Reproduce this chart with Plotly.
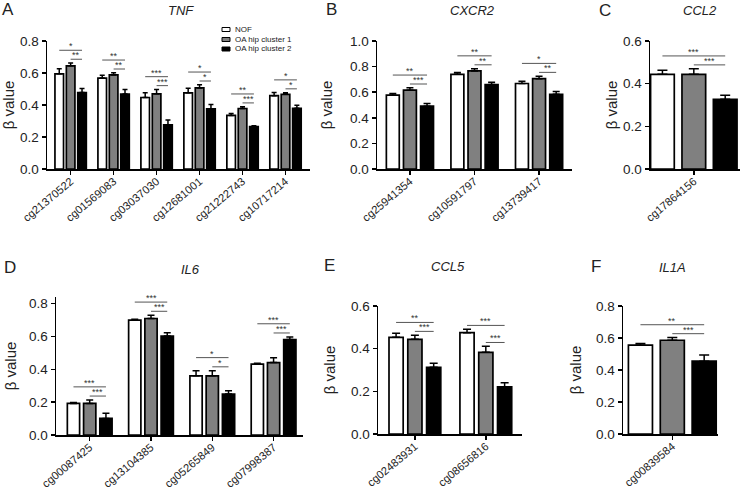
import plotly.graph_objects as go

W, H = 742, 490

# ---------------- data ----------------
groups = ["NOF", "OA hip cluster 1", "OA hip cluster 2"]

tnf_sites = ["cg21370522", "cg01569083", "cg03037030", "cg12681001", "cg21222743", "cg10717214"]
tnf_nof = [0.595, 0.568, 0.447, 0.476, 0.335, 0.458]
tnf_nof_err = [0.031, 0.018, 0.029, 0.029, 0.012, 0.020]
tnf_c1 = [0.645, 0.588, 0.470, 0.507, 0.378, 0.467]
tnf_c1_err = [0.017, 0.013, 0.027, 0.019, 0.011, 0.010]
tnf_c2 = [0.478, 0.468, 0.276, 0.376, 0.265, 0.379]
tnf_c2_err = [0.025, 0.029, 0.030, 0.027, 0.005, 0.020]
tnf_sig_long = ["*", "**", "***", "*", "**", "*"]
tnf_sig_short = ["**", "**", "***", "*", "***", "*"]

cxcr2_sites = ["cg25941354", "cg10591797", "cg13739417"]
cxcr2_nof = [0.577, 0.740, 0.668]
cxcr2_nof_err = [0.013, 0.013, 0.018]
cxcr2_c1 = [0.616, 0.766, 0.706]
cxcr2_c1_err = [0.018, 0.018, 0.019]
cxcr2_c2 = [0.491, 0.660, 0.584]
cxcr2_c2_err = [0.021, 0.018, 0.021]
cxcr2_sig_long = ["**", "**", "*"]
cxcr2_sig_short = ["***", "**", "**"]

ccl2_sites = ["cg17864156"]
ccl2_nof = [0.444]
ccl2_nof_err = [0.019]
ccl2_c1 = [0.444]
ccl2_c1_err = [0.026]
ccl2_c2 = [0.327]
ccl2_c2_err = [0.019]
ccl2_sig_long = ["***"]
ccl2_sig_short = ["***"]

il6_sites = ["cg00087425", "cg13104385", "cg05265849", "cg07998387"]
il6_nof = [0.192, 0.699, 0.360, 0.431]
il6_nof_err = [0.006, 0.006, 0.031, 0.006]
il6_c1 = [0.192, 0.709, 0.360, 0.441]
il6_c1_err = [0.021, 0.020, 0.031, 0.029]
il6_c2 = [0.101, 0.602, 0.249, 0.581]
il6_c2_err = [0.031, 0.020, 0.020, 0.016]
il6_sig_long = ["***", "***", "*", "***"]
il6_sig_short = ["***", "***", "*", "***"]

ccl5_sites = ["cg02483931", "cg08656816"]
ccl5_nof = [0.453, 0.475]
ccl5_nof_err = [0.019, 0.016]
ccl5_c1 = [0.444, 0.383]
ccl5_c1_err = [0.019, 0.028]
ccl5_c2 = [0.313, 0.221]
ccl5_c2_err = [0.019, 0.019]
ccl5_sig_long = ["**", "***"]
ccl5_sig_short = ["***", "***"]

il1a_sites = ["cg00839584"]
il1a_nof = [0.555]
il1a_nof_err = [0.010]
il1a_c1 = [0.586]
il1a_c1_err = [0.017]
il1a_c2 = [0.455]
il1a_c2_err = [0.038]
il1a_sig_long = ["**"]
il1a_sig_short = ["***"]

# ---------------- layout helpers ----------------
def fx(p):
    return p / W

def fy(p):
    return 1 - p / H

FONT = "Liberation Sans, Arial, sans-serif"
fills = ["white", "#808080", "black"]
OFF = 0.265   # bar offset within a group (axis units)
BW = 0.2      # bar width (axis units)

panels = [
    dict(letter="A", gene="TNF", sites=tnf_sites,
         vals=[tnf_nof, tnf_c1, tnf_c2], errs=[tnf_nof_err, tnf_c1_err, tnf_c2_err],
         sl=tnf_sig_long, ss=tnf_sig_short,
         box=(47, 310, 41, 169), ytop=0.8, xr=(-0.55, 5.57), cap=2.5, so=6,
         lp=(8, 9), tp=(181, 10)),
    dict(letter="B", gene="CXCR2", sites=cxcr2_sites,
         vals=[cxcr2_nof, cxcr2_c1, cxcr2_c2], errs=[cxcr2_nof_err, cxcr2_c1_err, cxcr2_c2_err],
         sl=cxcr2_sig_long, ss=cxcr2_sig_short,
         box=(377, 572, 41, 169), ytop=1.0, xr=(-0.51, 2.51), cap=3.5, so=14,
         lp=(331, 9), tp=(473, 10)),
    dict(letter="C", gene="CCL2", sites=ccl2_sites,
         vals=[ccl2_nof, ccl2_c1, ccl2_c2], errs=[ccl2_nof_err, ccl2_c1_err, ccl2_c2_err],
         sl=ccl2_sig_long, ss=ccl2_sig_short,
         box=(650, 740, 41, 169), ytop=0.6, xr=(-0.37, 0.39), cap=5, so=2,
         lp=(605, 10), tp=(700, 10)),
    dict(letter="D", gene="IL6", sites=il6_sites,
         vals=[il6_nof, il6_c1, il6_c2], errs=[il6_nof_err, il6_c1_err, il6_c2_err],
         sl=il6_sig_long, ss=il6_sig_short,
         box=(56, 303, 297, 435), ytop=0.84, xr=(-0.55, 3.48), cap=3.5, so=9,
         lp=(10, 267), tp=(190, 269)),
    dict(letter="E", gene="CCL5", sites=ccl5_sites,
         vals=[ccl5_nof, ccl5_c1, ccl5_c2], errs=[ccl5_nof_err, ccl5_c1_err, ccl5_c2_err],
         sl=ccl5_sig_long, ss=ccl5_sig_short,
         box=(378, 522, 306, 434), ytop=0.6, xr=(-0.52, 1.51), cap=4, so=12,
         lp=(329, 265), tp=(448, 266)),
    dict(letter="F", gene="IL1A", sites=il1a_sites,
         vals=[il1a_nof, il1a_c1, il1a_c2], errs=[il1a_nof_err, il1a_c1_err, il1a_c2_err],
         sl=il1a_sig_long, ss=il1a_sig_short,
         box=(623, 718, 306, 434), ytop=0.8, xr=(-0.41, 0.38), cap=5, so=11,
         lp=(596, 266), tp=(672, 267)),
]

fig = go.Figure()
shapes = []
annotations = []
layout_axes = {}

for k, p in enumerate(panels, start=1):
    xa = "x" if k == 1 else f"x{k}"
    ya = "y" if k == 1 else f"y{k}"
    n = len(p["sites"])
    offsets = [-OFF, 0.0, OFF]
    for g in range(3):
        fig.add_trace(go.Bar(
            x=[i + offsets[g] for i in range(n)],
            y=p["vals"][g],
            width=BW,
            name=groups[g],
            marker=dict(color=fills[g], line=dict(color="black", width=1.7)),
            error_y=dict(type="data", array=p["errs"][g], arrayminus=[0] * n,
                         symmetric=False, color="black", thickness=1.5, width=p["cap"]),
            xaxis=xa, yaxis=ya, showlegend=False, hoverinfo="skip",
        ))
    tick_top = 0.8 if p["ytop"] == 0.84 else p["ytop"]
    pad = 0.03 * tick_top
    gap = 0.07 * tick_top
    for i in range(n):
        tops = [p["vals"][g][i] + p["errs"][g][i] for g in range(3)]
        y_short = max(tops[1], tops[2]) + pad
        y_long = max(max(tops) + pad, y_short + gap)
        for (x0, x1, yy, txt) in [(i - OFF, i + OFF, y_long, p["sl"][i]),
                                  (i, i + OFF, y_short, p["ss"][i])]:
            shapes.append(dict(type="line", xref=xa, yref=ya, x0=x0, x1=x1, y0=yy, y1=yy,
                               line=dict(color="#555555", width=1)))
            annotations.append(dict(xref=xa, yref=ya, x=(x0 + x1) / 2, y=yy, text=txt,
                                    showarrow=False, xanchor="center", yanchor="bottom",
                                    yshift=-3, font=dict(family=FONT, size=9, color="#333333")))
    x0p, x1p, ytp, ybp = p["box"]
    axis_common = dict(showline=True, linecolor="black", linewidth=1.5, showgrid=False,
                       zeroline=False, ticks="outside", ticklen=4, tickwidth=1.5,
                       tickcolor="black", fixedrange=True, automargin=False)
    layout_axes["xaxis" if k == 1 else f"xaxis{k}"] = dict(
        domain=[fx(x0p), fx(x1p)], range=list(p["xr"]), anchor=ya,
        tickvals=list(range(n)), ticktext=p["sites"], tickangle=-40,
        ticklabelstandoff=-4,
        tickfont=dict(family=FONT, size=11.2, color="#222222"), **axis_common)
    layout_axes["yaxis" if k == 1 else f"yaxis{k}"] = dict(
        domain=[fy(ybp), fy(ytp)], range=[0, p["ytop"]], anchor=xa,
        tickvals=[v / 10 for v in range(0, int(round(tick_top * 10)) + 1, 2)],
        tickformat=".1f",
        tickfont=dict(family=FONT, size=13.5, color="#222222"),
        title=dict(text="β value", font=dict(family=FONT, size=15, color="#222222"),
                   standoff=p["so"]),
        **axis_common)
    annotations.append(dict(xref="paper", yref="paper", x=fx(p["lp"][0]), y=fy(p["lp"][1]),
                            text=p["letter"], showarrow=False, xanchor="center", yanchor="middle",
                            font=dict(family=FONT, size=17, color="#222222")))
    annotations.append(dict(xref="paper", yref="paper", x=fx(p["tp"][0]), y=fy(p["tp"][1]),
                            text=f"<i>{p['gene']}</i>", showarrow=False, xanchor="center",
                            yanchor="middle", font=dict(family=FONT, size=13, color="#222222")))

# legend (drawn manually)
leg_rows = [29.5, 39.5, 49]
for g, yy in enumerate(leg_rows):
    shapes.append(dict(type="rect", xref="paper", yref="paper",
                       x0=fx(222), x1=fx(230), y0=fy(yy + 2), y1=fy(yy - 2),
                       fillcolor=fills[g], line=dict(color="black", width=1)))
    annotations.append(dict(xref="paper", yref="paper", x=fx(233), y=fy(yy), text=groups[g],
                            showarrow=False, xanchor="left", yanchor="middle",
                            font=dict(family=FONT, size=8, color="#222222")))

fig.update_layout(
    width=W, height=H, margin=dict(l=0, r=0, t=0, b=0, autoexpand=False),
    paper_bgcolor="white", plot_bgcolor="white",
    barmode="overlay", showlegend=False, hovermode=False,
    shapes=shapes, annotations=annotations,
    font=dict(family=FONT, color="#222222"),
    **layout_axes,
)

fig.write_html("out.html", config={"displayModeBar": False, "staticPlot": True},
               post_script="document.body.style.margin='0';document.body.style.overflow='hidden';")
